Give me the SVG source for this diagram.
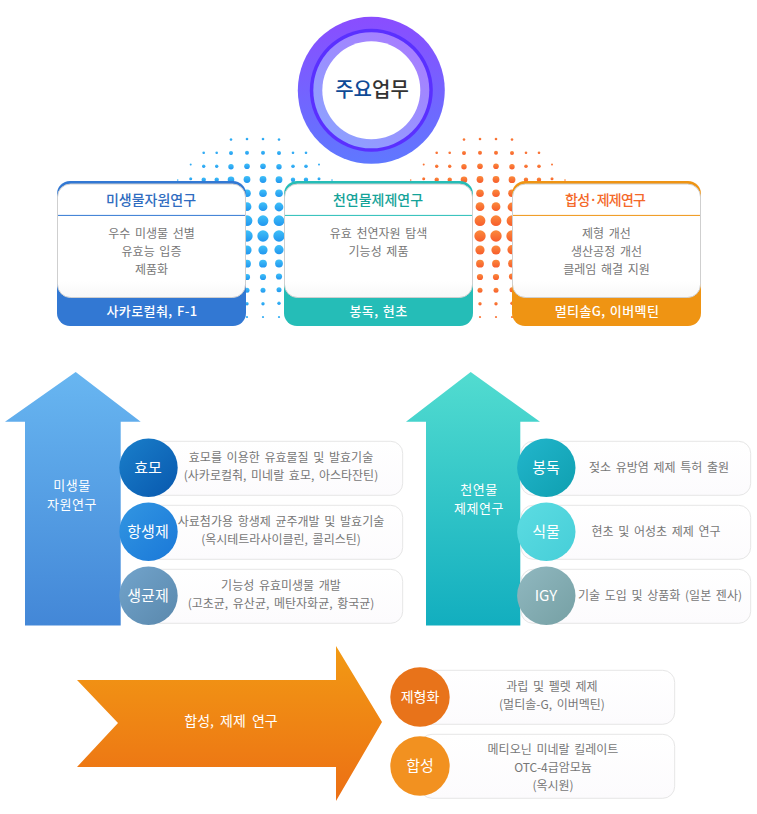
<svg xmlns="http://www.w3.org/2000/svg" xmlns:xlink="http://www.w3.org/1999/xlink" width="757" height="814" viewBox="0 0 757 814">
<style>
text{font-family:"Noto Sans CJK KR","Noto Sans",sans-serif;text-anchor:middle}
.t{font-size:14px;font-weight:500}
.b{font-size:12px;fill:#777;word-spacing:2px}
.f{font-size:13px;fill:#fff;font-weight:500;letter-spacing:.4px;word-spacing:1px}
.c{font-size:15px;fill:#fff;font-weight:400}
.a{font-size:13px;fill:#fff;font-weight:400;letter-spacing:.5px}
.p{fill:url(#pill);stroke:#e6e6e6;stroke-width:1}
.in{fill:url(#inner);stroke:#cfcfcf;stroke-width:1}
</style>
<defs>
<linearGradient id="ring" x1="0" y1="0" x2="0" y2="1"><stop offset="0" stop-color="#8a4dff"/><stop offset="1" stop-color="#5f78ff"/></linearGradient>
<linearGradient id="ring2" x1="0.8" y1="0.1" x2="0.2" y2="0.9"><stop offset="0" stop-color="#a67fff"/><stop offset="1" stop-color="#8fa0ff"/></linearGradient>
<linearGradient id="inner" x1="0" y1="0" x2="0" y2="1"><stop offset="0" stop-color="#fff"/><stop offset="0.85" stop-color="#fff"/><stop offset="1" stop-color="#f8f8f8"/></linearGradient>
<linearGradient id="pill" x1="0" y1="0" x2="0" y2="1"><stop offset="0" stop-color="#fff"/><stop offset="1" stop-color="#fcfbfd"/></linearGradient>
<linearGradient id="ab" x1="0" y1="0" x2="0" y2="1"><stop offset="0" stop-color="#68b6f1"/><stop offset="1" stop-color="#4387d7"/></linearGradient>
<linearGradient id="at" x1="0" y1="0" x2="0" y2="1"><stop offset="0" stop-color="#52dcd0"/><stop offset="1" stop-color="#12aebf"/></linearGradient>
<linearGradient id="ao" x1="0" y1="0" x2="0" y2="1"><stop offset="0" stop-color="#f29a14"/><stop offset="1" stop-color="#ec6f14"/></linearGradient>
<linearGradient id="c1" x1="0" y1="0" x2="1" y2="1"><stop offset="0" stop-color="#1a7fca"/><stop offset="1" stop-color="#0858ae"/></linearGradient>
<linearGradient id="c2" x1="0" y1="0" x2="1" y2="1"><stop offset="0" stop-color="#3296e2"/><stop offset="1" stop-color="#1a78d8"/></linearGradient>
<linearGradient id="c3" x1="0" y1="0" x2="1" y2="1"><stop offset="0" stop-color="#72a4cc"/><stop offset="1" stop-color="#5a88ac"/></linearGradient>
<linearGradient id="c4" x1="0" y1="0" x2="1" y2="1"><stop offset="0" stop-color="#22b6cc"/><stop offset="1" stop-color="#0f9fb0"/></linearGradient>
<linearGradient id="c5" x1="0" y1="0" x2="1" y2="1"><stop offset="0" stop-color="#5cdce2"/><stop offset="1" stop-color="#46ced8"/></linearGradient>
<linearGradient id="c6" x1="0" y1="0" x2="1" y2="1"><stop offset="0" stop-color="#90b8c0"/><stop offset="1" stop-color="#76a0a4"/></linearGradient>
<linearGradient id="db" x1="0" y1="0" x2="0" y2="1"><stop offset="0" stop-color="#3fc0f8"/><stop offset="1" stop-color="#2196ef"/></linearGradient>
<linearGradient id="do" x1="0" y1="0" x2="0" y2="1"><stop offset="0" stop-color="#fb8a3c"/><stop offset="1" stop-color="#f75c2c"/></linearGradient>
<g id="dotset">
<circle cx="231" cy="139.5" r="1.3"/><circle cx="247" cy="139" r="1.3"/><circle cx="263" cy="139" r="1.3"/><circle cx="279" cy="139.5" r="1.3"/>
<circle cx="203.7" cy="152.7" r="1.3"/><circle cx="216.7" cy="152.7" r="1.3"/><circle cx="231" cy="153" r="2"/><circle cx="247" cy="152.7" r="2"/><circle cx="263" cy="152.7" r="2"/><circle cx="279" cy="153" r="2"/><circle cx="293" cy="152.7" r="1.3"/><circle cx="306" cy="152.7" r="1.3"/>
<circle cx="190.7" cy="164.5" r="1"/><circle cx="203.7" cy="166.3" r="1.7"/><circle cx="216.7" cy="166.3" r="1.7"/><circle cx="231" cy="166.7" r="2.7"/><circle cx="247" cy="166.3" r="2.8"/><circle cx="263" cy="166.3" r="2.8"/><circle cx="279" cy="166.7" r="2.7"/><circle cx="293" cy="166.3" r="1.8"/><circle cx="306" cy="166.3" r="1.8"/><circle cx="319" cy="164.5" r="1"/>
<circle cx="177.7" cy="180" r="0.8"/><circle cx="190.7" cy="178.7" r="1.5"/><circle cx="203.7" cy="179.7" r="2.2"/><circle cx="216.7" cy="179.7" r="2.2"/><circle cx="231" cy="179.7" r="3.3"/><circle cx="247" cy="179.5" r="3.4"/><circle cx="263" cy="179.5" r="3.4"/><circle cx="279" cy="179.7" r="3.4"/><circle cx="293" cy="179.7" r="2.2"/><circle cx="306" cy="179.7" r="2.2"/><circle cx="319" cy="178.7" r="1.5"/><circle cx="332" cy="180" r="0.8"/>
<circle cx="247" cy="193.3" r="3.8"/><circle cx="263" cy="193.3" r="3.8"/><circle cx="279" cy="193.3" r="3.8"/>
<circle cx="247" cy="206.7" r="4.4"/><circle cx="263" cy="206.7" r="4.4"/><circle cx="279" cy="207" r="4.4"/>
<circle cx="247" cy="220.7" r="5.4"/><circle cx="263" cy="220.7" r="5.4"/><circle cx="279" cy="220.7" r="5.4"/>
<circle cx="247" cy="236" r="5.7"/><circle cx="263" cy="236" r="5.7"/><circle cx="279" cy="236" r="5.7"/>
<circle cx="247" cy="250" r="4.6"/><circle cx="263" cy="250" r="4.6"/><circle cx="279" cy="249.7" r="4.6"/>
<circle cx="247" cy="263.7" r="3.9"/><circle cx="263" cy="263.7" r="3.9"/><circle cx="279" cy="263.5" r="3.9"/>
<circle cx="247" cy="277" r="3.1"/><circle cx="263" cy="277" r="3.1"/><circle cx="279" cy="276.5" r="3.1"/>
<circle cx="247" cy="290.3" r="2.5"/><circle cx="263" cy="290.3" r="2.5"/><circle cx="279" cy="289.7" r="2.5"/>
<circle cx="247" cy="303.7" r="1.7"/><circle cx="263" cy="303.7" r="1.7"/><circle cx="279" cy="303.3" r="1.7"/>
<circle cx="247" cy="317" r="1.1"/><circle cx="263" cy="317" r="1.1"/><circle cx="279" cy="317" r="1.1"/>
</g>
</defs>
<rect width="757" height="814" fill="#fff"/>
<g id="dots">
<use xlink:href="#dotset" href="#dotset" fill="url(#db)"/>
<use xlink:href="#dotset" href="#dotset" x="233" fill="url(#do)"/>
</g>
<g id="node-main">
<circle cx="371.3" cy="90.3" r="73.5" fill="url(#ring)"/>
<circle cx="371.3" cy="90.3" r="61.5" fill="#5a30ff"/>
<circle cx="371.3" cy="90.3" r="58" fill="url(#ring2)"/>
<circle cx="371.3" cy="90.3" r="49" fill="#fff"/>
<text x="372" y="97" font-size="20" font-weight="500"><tspan fill="#0f4a96">주요</tspan><tspan fill="#333">업무</tspan></text>
</g>
<g id="card-micro">
<rect x="57" y="181" width="189" height="145" rx="13" fill="#3278d3"/>
<rect x="57.5" y="184" width="188" height="113.5" rx="13" class="in"/>
<line x1="58" y1="215.4" x2="245" y2="215.4" stroke="#3278d3"/>
<text x="151" y="205" class="t" fill="#2f6cc0">미생물자원연구</text>
<text x="151.5" y="238" class="b">우수 미생물 선별</text>
<text x="151.5" y="256" class="b">유효능 입증</text>
<text x="151.5" y="274" class="b">제품화</text>
<text x="152" y="316" class="f">사카로컬춰, F-1</text>
</g>
<g id="card-natural">
<rect x="284" y="181" width="189" height="145" rx="13" fill="#25bdb7"/>
<rect x="284.5" y="184" width="188" height="113.5" rx="13" class="in"/>
<line x1="285" y1="215.4" x2="472" y2="215.4" stroke="#25bdb7"/>
<text x="378" y="205" class="t" fill="#14a399">천연물제제연구</text>
<text x="378.5" y="238" class="b">유효 천연자원 탐색</text>
<text x="378.5" y="256" class="b">기능성 제품</text>
<text x="378.5" y="316" class="f">봉독, 현초</text>
</g>
<g id="card-synth">
<rect x="512" y="181" width="189" height="145" rx="13" fill="#ef9413"/>
<rect x="512.5" y="184" width="188" height="113.5" rx="13" class="in"/>
<line x1="513" y1="215.4" x2="700" y2="215.4" stroke="#ef9413"/>
<text x="605.5" y="205" class="t" fill="#f4692a" textLength="81" lengthAdjust="spacing">합성·제제연구</text>
<text x="606.5" y="238" class="b">제형 개선</text>
<text x="606.5" y="256" class="b">생산공정 개선</text>
<text x="606.5" y="274" class="b">클레임 해결 지원</text>
<text x="607" y="316" class="f">멀티솔G, 이버멕틴</text>
</g>
<g id="arrow-micro">
<polygon points="75.7,372 140.7,421.7 120.7,421.7 120.7,625.5 25,625.5 25,421.7 5,421.7" fill="url(#ab)"/>
<text class="a"><tspan x="72" y="489.5">미생물</tspan><tspan x="72" y="508.5">자원연구</tspan></text>
</g>
<g id="arrow-natural">
<polygon points="470.7,372 540,421.7 520.3,421.7 520.3,625.5 426,625.5 426,421.7 406,421.7" fill="url(#at)"/>
<text class="a"><tspan x="479" y="493.5">천연물</tspan><tspan x="479" y="512.5">제제연구</tspan></text>
</g>
<g id="arrow-synth">
<polygon points="77,680 336,680 336,646 382,722 336,801 336,767 77,767 118,723" fill="url(#ao)"/>
<text x="231" y="726" class="a" style="word-spacing:3px;font-size:14px;letter-spacing:0">합성, 제제 연구</text>
</g>
<g id="node-yeast">
<rect x="148" y="441.3" width="254.7" height="54" rx="12" class="p"/>
<circle cx="148.5" cy="467.7" r="29.2" fill="url(#c1)"/>
<text x="148" y="473" class="c">효모</text>
<text x="281" y="462" class="b">효모를 이용한 유효물질 및 발효기술</text>
<text x="281" y="480" class="b">(사카로컬춰, 미네랄 효모, 아스타잔틴)</text>
</g>
<g id="node-antibiotic">
<rect x="148" y="505.3" width="254.7" height="54" rx="12" class="p"/>
<circle cx="148.5" cy="531.7" r="29.2" fill="url(#c2)"/>
<text x="148" y="537" class="c">항생제</text>
<text x="281" y="526" class="b">사료첨가용 항생제 균주개발 및 발효기술</text>
<text x="281" y="544" class="b">(옥시테트라사이클린, 콜리스틴)</text>
</g>
<g id="node-probiotic">
<rect x="148" y="569.3" width="254.7" height="54" rx="12" class="p"/>
<circle cx="148.5" cy="595.7" r="29.2" fill="url(#c3)"/>
<text x="148" y="601" class="c">생균제</text>
<text x="281" y="590" class="b">기능성 유효미생물 개발</text>
<text x="281" y="608" class="b">(고초균, 유산균, 메탄자화균, 황국균)</text>
</g>
<g id="node-venom">
<rect x="521" y="441.3" width="229.7" height="54" rx="12" class="p"/>
<circle cx="546.3" cy="467.7" r="29.2" fill="url(#c4)"/>
<text x="546" y="473" class="c">봉독</text>
<text x="659" y="472" class="b">젖소 유방염 제제 특허 출원</text>
</g>
<g id="node-plant">
<rect x="521" y="505.3" width="229.7" height="54" rx="12" class="p"/>
<circle cx="546.3" cy="531.7" r="29.2" fill="url(#c5)"/>
<text x="546" y="537" class="c">식물</text>
<text x="656" y="536" class="b">현초 및 어성초 제제 연구</text>
</g>
<g id="node-igy">
<rect x="521" y="569.3" width="229.7" height="54" rx="12" class="p"/>
<circle cx="546.3" cy="595.7" r="29.2" fill="url(#c6)"/>
<text x="546" y="601" class="c">IGY</text>
<text x="660" y="600" class="b">기술 도입 및 상품화 (일본 젠사)</text>
</g>
<g id="node-form">
<rect x="420" y="670.3" width="254.7" height="54" rx="12" class="p"/>
<circle cx="420" cy="697" r="29.7" fill="#e8731a"/>
<text x="420" y="702" class="c" style="font-size:14px">제형화</text>
<text x="552" y="691" class="b">과립 및 펠렛 제제</text>
<text x="552" y="709" class="b">(멀티솔-G, 이버멕틴)</text>
</g>
<g id="node-synth">
<rect x="420" y="734.3" width="254.7" height="64" rx="12" class="p"/>
<circle cx="420" cy="766" r="29.7" fill="#f29120"/>
<text x="420" y="771" class="c">합성</text>
<text x="553" y="754" class="b">메티오닌 미네랄 킬레이트</text>
<text x="553" y="772" class="b">OTC-4급암모늄</text>
<text x="553" y="790" class="b">(옥시원)</text>
</g>
</svg>
